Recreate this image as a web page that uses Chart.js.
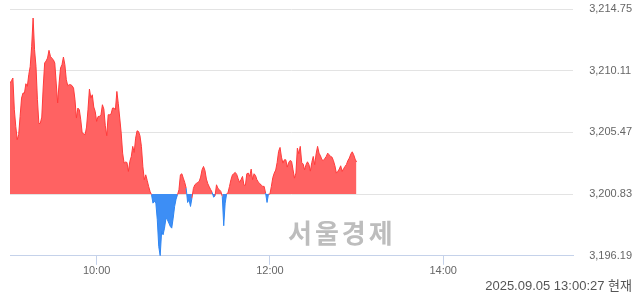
<!DOCTYPE html>
<html>
<head>
<meta charset="utf-8">
<script src="https://cdn.jsdelivr.net/npm/chart.js@4"></script>
<style>
  html, body { margin: 0; padding: 0; background: #fff; }
  #wrap { position: relative; width: 640px; height: 294px; }
  .wm {
    position: absolute; left: 288px; top: 214px;
    font-family: "Noto Sans CJK KR", sans-serif; font-weight: bold;
    font-size: 26px; color: #bdbdbd; line-height: 36px; letter-spacing: 3px;
  }
  .ts {
    position: absolute; right: 8px; top: 278px;
    font-family: "Liberation Sans", "Noto Sans CJK KR", sans-serif;
    font-size: 13px; color: #555; line-height: 16px; white-space: nowrap;
  }
</style>
</head>
<body>
<div id="wrap">
  <canvas id="kospiChart" width="640" height="294"></canvas>
  <div class="wm">서울경제</div>
  <div class="ts">2025.09.05 13:00:27 현재</div>
</div>
<script>
// KOSPI intraday, one value per minute from 09:00
const baseValue = 3200.83;
const yTicks = [3196.19, 3200.83, 3205.47, 3210.11, 3214.75];
const xTickMinutes = [60, 180, 300];
const xTickLabels = ['10:00', '12:00', '14:00'];
const values = [
  3209.18, 3209.36, 3209.56, 3207.17, 3205.92, 3204.92, 3205.29, 3206.67, 3208.05, 3208.43,
  3208.43, 3209.13, 3208.93, 3209.81, 3210.43, 3211.94, 3214.07, 3211.69, 3210.43, 3207.93,
  3206.12, 3206.17, 3206.62, 3208.88, 3210.69, 3210.84, 3211.06, 3211.64, 3211.19, 3211.04,
  3210.94, 3210.69, 3209.18, 3207.68, 3209.18, 3210.31, 3210.56, 3211.14, 3210.56, 3209.43,
  3208.98, 3209.06, 3209.06, 3208.98, 3208.80, 3207.93, 3206.55, 3207.30, 3207.17, 3206.42,
  3205.42, 3205.37, 3205.29, 3205.87, 3207.17, 3208.73, 3208.05, 3208.30, 3207.38, 3207.05,
  3206.30, 3206.67, 3206.67, 3206.80, 3207.55, 3207.22, 3205.97, 3205.22, 3206.80, 3206.80,
  3206.85, 3207.30, 3207.30, 3207.17, 3208.55, 3207.63, 3206.55, 3205.42, 3203.91, 3203.16,
  3203.24, 3203.21, 3202.54, 3203.29, 3203.66, 3204.42, 3203.96, 3205.04, 3205.59, 3205.54,
  3205.22, 3204.42, 3202.91, 3201.91, 3202.28, 3201.86, 3201.41, 3201.03, 3200.78, 3200.15,
  3200.30, 3200.15, 3198.90, 3196.89, 3196.19, 3198.02, 3197.77, 3198.27, 3199.02, 3198.90,
  3198.65, 3198.40, 3198.27, 3199.02, 3199.90, 3200.45, 3200.78, 3201.16, 3202.28, 3202.36,
  3202.03, 3201.71, 3201.28, 3200.20, 3200.40, 3199.90, 3200.53, 3201.26, 3201.53, 3201.63,
  3201.71, 3201.78, 3202.11, 3202.66, 3202.91, 3202.61, 3201.96, 3201.61, 3201.38, 3201.16,
  3200.96, 3200.60, 3200.70, 3201.53, 3201.26, 3201.16, 3201.03, 3200.65, 3198.45, 3200.15,
  3200.83, 3200.96, 3201.41, 3201.91, 3202.26, 3202.38, 3202.46, 3202.31, 3201.98, 3201.71,
  3201.93, 3202.16, 3201.51, 3201.48, 3202.36, 3202.41, 3202.16, 3202.71, 3201.91, 3202.36,
  3202.23, 3201.91, 3201.73, 3201.61, 3201.51, 3201.41, 3201.41, 3200.91, 3200.20, 3200.83,
  3200.83, 3201.41, 3202.08, 3202.41, 3202.64, 3203.21, 3204.04, 3204.34, 3203.61, 3203.16,
  3203.41, 3203.41, 3202.86, 3203.21, 3203.36, 3203.29, 3202.66, 3202.03, 3202.41, 3204.29,
  3203.86, 3204.42, 3203.21, 3203.09, 3202.66, 3203.04, 3203.26, 3203.06, 3202.56, 3203.21,
  3203.66, 3203.04, 3203.86, 3204.42, 3203.91, 3203.71, 3203.41, 3203.36, 3203.51, 3203.66,
  3203.91, 3203.79, 3203.66, 3203.61, 3203.34, 3202.96, 3202.41, 3202.54, 3202.71, 3202.96,
  3202.54, 3202.74, 3202.91, 3203.06, 3203.36, 3203.54, 3203.84, 3204.01, 3203.79, 3203.46,
  3203.24
];

const red = '#ff3b3b';
const redFill = '#ff6262';
const blue = '#2f86f2';
const blueFill = '#3d8ef5';

const ctx = document.getElementById('kospiChart').getContext('2d');
new Chart(ctx, {
    type: 'line',
    data: {
        datasets: [{
            data: values.map((v, i) => ({ x: i, y: v })),
            borderWidth: 1,
            borderColor: red,
            pointRadius: 0,
            tension: 0,
            fill: { target: { value: baseValue }, above: redFill, below: blueFill },
            segment: {
                borderColor: c => (c.p0.parsed.y + c.p1.parsed.y) / 2 < baseValue ? blue : red
            }
        }]
    },
    options: {
        responsive: false,
        animation: false,
        events: [],
        // right padding is negative because Chart.js reserves the tick padding twice
        layout: { padding: { left: 10, right: -8, top: 9, bottom: 16 } },
        plugins: { legend: { display: false }, tooltip: { enabled: false } },
        scales: {
            x: {
                type: 'linear',
                min: 0,
                max: 390,
                afterBuildTicks: s => { s.ticks = xTickMinutes.map(v => ({ value: v })); },
                ticks: {
                    color: '#666',
                    font: { family: 'Liberation Sans', size: 11 },
                    padding: 0,
                    maxRotation: 0,
                    callback: v => xTickLabels[xTickMinutes.indexOf(v)]
                },
                grid: { drawOnChartArea: false, color: '#c5d2ea', tickLength: 9 },
                border: { color: '#c5d2ea' }
            },
            y: {
                position: 'right',
                min: yTicks[0],
                max: yTicks[yTicks.length - 1],
                afterBuildTicks: s => { s.ticks = yTicks.map(v => ({ value: v })); },
                afterFit: s => { s.paddingTop = 0; s.paddingBottom = 0; },
                ticks: {
                    color: '#666',
                    font: { family: 'Liberation Sans', size: 11 },
                    padding: 16,
                    callback: v => v.toLocaleString('en-US', { minimumFractionDigits: 2, maximumFractionDigits: 2 })
                },
                grid: { color: '#e3e3e3', drawTicks: false },
                border: { display: false }
            }
        }
    }
});
</script>
</body>
</html>
